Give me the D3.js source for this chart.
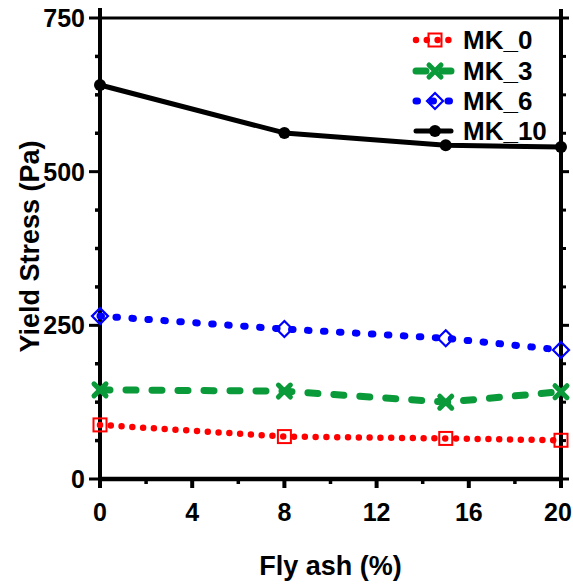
<!DOCTYPE html>
<html>
<head>
<meta charset="utf-8">
<script src="https://cdn.jsdelivr.net/npm/d3@7"></script>
<style>
  html, body { margin: 0; padding: 0; background: #fff; }
  svg { display: block; font-family: Arial, "Liberation Sans", sans-serif; font-weight: bold; }
</style>
</head>
<body>
<svg id="chart" width="573" height="584"></svg>
<script>
// Fly ash content (%)
const flyAsh = [0, 8, 15, 20];
// Yield stress (Pa) for each metakaolin level
const seriesNames = ["MK_0", "MK_3", "MK_6", "MK_10"];
const mk0 = [88, 69, 66, 63];
const mk3 = [145, 143, 125, 142];
const mk6 = [265, 244, 229, 210];
const mk10 = [641, 563, 543, 540];
const xTicks = [0, 4, 8, 12, 16, 20];
const yTicks = [0, 250, 500, 750];

const svg = d3.select("#chart");
const x = d3.scaleLinear().domain([0, 20]).range([100, 561]);
const y = d3.scaleLinear().domain([0, 750]).range([479, 18]);

const styles = {
  MK_0:  { color: "#ff0000", width: 6.5, dash: "0 10.8", marker: "square" },
  MK_3:  { color: "#0a9a3a", width: 7, dash: "10 16", marker: "cross" },
  MK_6:  { color: "#0000ff", width: 7, dash: "1.5 14.5", marker: "diamond" },
  MK_10: { color: "#000000", width: 5, dash: null, marker: "circle" }
};
const seriesData = { MK_0: mk0, MK_3: mk3, MK_6: mk6, MK_10: mk10 };

// ---- frame & axes ----
const ax = svg.append("g").attr("stroke", "#000").attr("fill", "none");
// top frame line
ax.append("line").attr("x1", x(0)).attr("x2", x(20)).attr("y1", y(750)).attr("y2", y(750)).attr("stroke-width", 3);
// bottom axis line
ax.append("line").attr("x1", x(0) - 2).attr("x2", x(20) + 2).attr("y1", y(0)).attr("y2", y(0)).attr("stroke-width", 4.5);
// left and right axis lines (extend slightly past the frame)
ax.append("line").attr("x1", x(0)).attr("x2", x(0)).attr("y1", y(750) - 10).attr("y2", y(0) + 9).attr("stroke-width", 4);
ax.append("line").attr("x1", x(20)).attr("x2", x(20)).attr("y1", y(750) - 9).attr("y2", y(0) + 9).attr("stroke-width", 4);

// x ticks (major every 4, minor every 2)
d3.range(0, 21, 2).forEach(v => {
  const major = v % 4 === 0;
  ax.append("line").attr("x1", x(v)).attr("x2", x(v))
    .attr("y1", y(0)).attr("y2", y(0) + (major ? 9 : 5))
    .attr("stroke-width", major ? 4 : 3.5);
});
// y ticks: major every 250, minor every 62.5
d3.range(0, 751, 62.5).forEach(v => {
  const major = v % 250 === 0;
  ax.append("line").attr("x1", x(0)).attr("x2", x(0) - (major ? 11 : 5))
    .attr("y1", y(v)).attr("y2", y(v)).attr("stroke-width", major ? 3 : 3.5);
  ax.append("line").attr("x1", x(20)).attr("x2", x(20) + (major ? 8 : 5))
    .attr("y1", y(v)).attr("y2", y(v)).attr("stroke-width", 3);
});

// tick labels
svg.append("g").selectAll("text").data(xTicks).join("text")
  .attr("x", d => Math.min(x(d), 558)).attr("y", 521)
  .attr("text-anchor", "middle").attr("font-size", 25)
  .text(d => d);
svg.append("g").selectAll("text").data(yTicks).join("text")
  .attr("x", 85).attr("y", d => y(d) + 9)
  .attr("text-anchor", "end").attr("font-size", 25)
  .text(d => d);

// axis titles
svg.append("text").attr("x", x(10)).attr("y", 575)
  .attr("text-anchor", "middle").attr("font-size", 27).text("Fly ash (%)");
svg.append("text").attr("transform", `translate(39,${y(375) - 2}) rotate(-90)`)
  .attr("text-anchor", "middle").attr("font-size", 27).text("Yield Stress (Pa)");

// ---- markers ----
function drawMarker(g, kind, cx, cy, color) {
  if (kind === "square") {
    g.append("rect").attr("x", cx - 6.5).attr("y", cy - 6.5).attr("width", 13).attr("height", 13)
      .attr("fill", "none").attr("stroke", color).attr("stroke-width", 2);
  } else if (kind === "diamond") {
    g.append("path").attr("d", `M${cx},${cy - 8}L${cx + 8},${cy}L${cx},${cy + 8}L${cx - 8},${cy}Z`)
      .attr("fill", "none").attr("stroke", color).attr("stroke-width", 2.2);
  } else if (kind === "cross") {
    g.append("path").attr("d", `M${cx - 6},${cy - 6}L${cx + 6},${cy + 6}M${cx + 6},${cy - 6}L${cx - 6},${cy + 6}`)
      .attr("stroke", color).attr("stroke-width", 5).attr("stroke-linecap", "round");
  } else {
    g.append("circle").attr("cx", cx).attr("cy", cy).attr("r", 6).attr("fill", color);
  }
}

// ---- series ----
const line = d3.line().x((d, i) => x(flyAsh[i])).y(d => y(d));
seriesNames.forEach(name => {
  const s = styles[name];
  const vals = seriesData[name];
  const g = svg.append("g");
  g.append("path").attr("d", line(vals))
    .attr("fill", "none").attr("stroke", s.color).attr("stroke-width", s.width)
    .attr("stroke-linecap", "round").attr("stroke-linejoin", "round")
    .attr("stroke-dasharray", s.dash);
  vals.forEach((v, i) => drawMarker(g, s.marker, x(flyAsh[i]), y(v), s.color));
});

// ---- legend ----
const legend = svg.append("g");
const legendY = [40, 71, 101, 131];
seriesNames.forEach((name, i) => {
  const s = styles[name];
  const ly = legendY[i];
  legend.append("line").attr("x1", 416).attr("x2", 451).attr("y1", ly).attr("y2", ly)
    .attr("stroke", s.color).attr("stroke-width", s.width)
    .attr("stroke-linecap", "round").attr("stroke-dasharray", s.dash);
  drawMarker(legend, s.marker, 435, ly, s.color);
  legend.append("text").attr("x", 463).attr("y", ly + 9).attr("font-size", 26).text(name);
});
</script>
</body>
</html>
